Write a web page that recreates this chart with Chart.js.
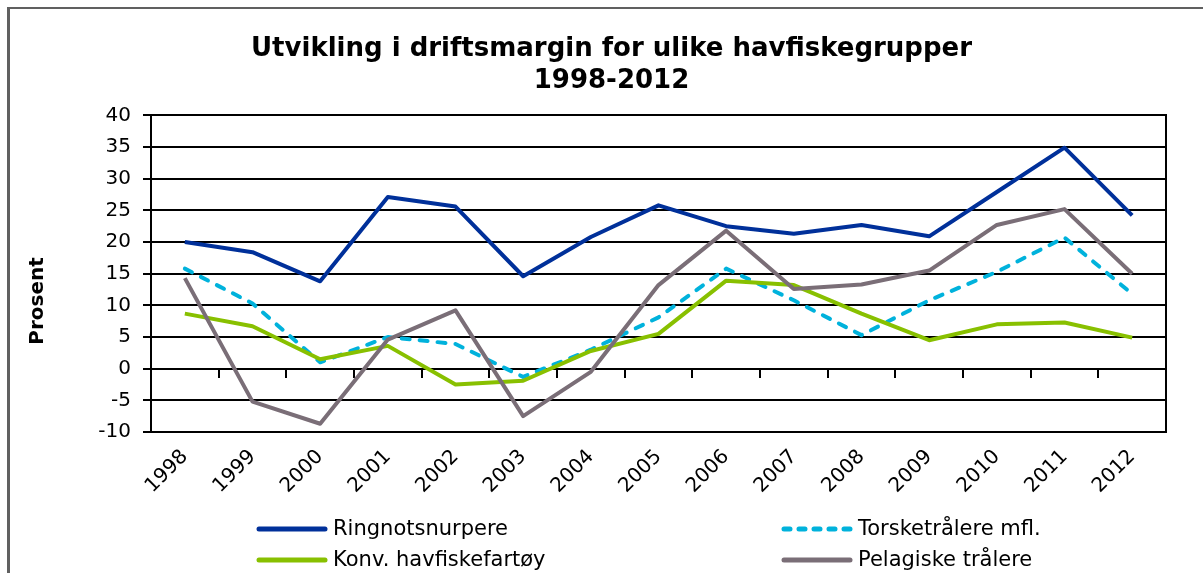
<!DOCTYPE html>
<html lang="no">
<head>
  <meta charset="UTF-8">
  <title>Driftsmargin havfiske</title>
  <script src="https://cdn.jsdelivr.net/npm/chart.js"></script>
  <style>
    body { margin: 0; background: #ffffff; }
    .boks { position: relative; width: 1203px; height: 573px; }
    .ramme { position: absolute; left: 7px; top: 7px; right: 0; bottom: 0;
             border-left: 3px solid #606060; border-top: 2px solid #606060; pointer-events: none; }
  </style>
</head>
<body>
  <div class="boks">
    <canvas id="grafMargin" width="1203" height="573"></canvas>
    <div class="ramme"></div>
  </div>

<script>
  // data lest av figuren (prosent)
  var aar = ['1998', '1999', '2000', '2001', '2002', '2003', '2004', '2005', '2006', '2007', '2008', '2009', '2010', '2011', '2012'];
  var ringnot = [20, 18.4, 13.8, 27.1, 25.6, 14.6, 20.8, 25.8, 22.5, 21.3, 22.7, 20.9, 27.9, 34.9, 24.2];
  var torsk = [15.8, 10.3, 1.0, 5.0, 3.9, -1.3, 3.0, 8.1, 15.8, 10.8, 5.3, 10.8, 15.3, 20.7, 11.8];
  var konv = [8.7, 6.7, 1.5, 3.6, -2.5, -1.9, 2.8, 5.5, 13.9, 13.2, 8.7, 4.5, 7.0, 7.3, 4.9];
  var pelagisk = [14.3, -5.2, -8.7, 4.6, 9.2, -7.5, -0.5, 13.2, 21.8, 12.6, 13.3, 15.5, 22.7, 25.2, 15.0];
  var navn = ['Ringnotsnurpere', 'Torsketrålere mfl.', 'Konv. havfiskefartøy', 'Pelagiske trålere'];
  var yMin = -10, yMax = 40, ySteg = 5;

  var font = 'DejaVu Sans';

  // tegner "Prosent" og forklaringen selv (to kolonner som i Excel)
  var egenTekst = {
    id: 'egenTekst',
    afterDraw: function (chart) {
      var ctx = chart.ctx;
      ctx.save();
      ctx.fillStyle = '#000000';
      ctx.font = 'bold 20px ' + font;
      ctx.textAlign = 'center';
      ctx.textBaseline = 'middle';
      ctx.translate(38, 301);
      ctx.rotate(-Math.PI / 2);
      ctx.fillText('Prosent', 0, 0);
      ctx.restore();

      var kolonner = [257, 782];
      var rader = [529, 560];
      chart.data.datasets.forEach(function (ds, i) {
        var x = kolonner[i % 2];
        var y = rader[Math.floor(i / 2)];
        ctx.save();
        ctx.strokeStyle = ds.borderColor;
        ctx.lineWidth = 5;
        ctx.lineCap = 'round';
        ctx.setLineDash(ds.borderDash ? [6, 9] : []);
        ctx.beginPath();
        ctx.moveTo(x + 2, y);
        ctx.lineTo(x + 68, y);
        ctx.stroke();
        ctx.setLineDash([]);
        ctx.fillStyle = '#000000';
        ctx.font = '21px ' + font;
        ctx.textAlign = 'left';
        ctx.textBaseline = 'middle';
        ctx.fillText(ds.label, x + 76, y + 1);
        ctx.restore();
      });
    }
  };

  var ctx = document.getElementById('grafMargin').getContext('2d');

  new Chart(ctx, {
    type: 'line',
    data: {
      labels: aar,
      datasets: [
        { label: navn[0], data: ringnot, borderColor: '#00309A', order: 3 },
        { label: navn[1], data: torsk, borderColor: '#00B2DC', borderDash: [8, 10], borderCapStyle: 'round', order: 2 },
        { label: navn[2], data: konv, borderColor: '#88C000', order: 1 },
        { label: navn[3], data: pelagisk, borderColor: '#7A6E77', order: 0 }
      ]
    },
    options: {
      responsive: false,
      animation: false,
      elements: {
        line: { borderWidth: 4, tension: 0, borderJoinStyle: 'round', fill: false },
        point: { radius: 0, hoverRadius: 0 }
      },
      layout: { padding: { left: 20, right: 0, top: 0, bottom: 0 } },
      scales: {
        x: {
          type: 'category',
          offset: true,
          grid: { display: false, drawTicks: false },
          border: { display: false },
          ticks: {
            color: '#000000',
            font: { family: font, size: 20 },
            minRotation: 45,
            maxRotation: 45,
            padding: 13
          },
          afterFit: function (scale) { scale.height = 141; }
        },
        xNull: {
          type: 'category',
          labels: aar,
          position: { y: 0 },
          offset: true,
          grid: { offset: true, drawOnChartArea: false, color: '#000000', lineWidth: 2, tickLength: 8 },
          border: { color: '#000000', width: 2 },
          ticks: { display: false }
        },
        y: {
          min: yMin,
          max: yMax,
          ticks: {
            stepSize: ySteg,
            color: '#000000',
            font: { family: font, size: 20 },
            padding: 12
          },
          grid: { color: '#000000', lineWidth: 2, tickLength: 8 },
          border: { color: '#000000', width: 2 },
          afterFit: function (scale) { scale.width = 131; }
        },
        yHoyre: {
          position: 'right',
          min: yMin,
          max: yMax,
          grid: { drawOnChartArea: false, drawTicks: false },
          border: { color: '#000000', width: 2 },
          ticks: { display: false },
          afterFit: function (scale) { scale.width = 37; }
        }
      },
      plugins: {
        legend: { display: false },
        tooltip: { enabled: false },
        title: {
          display: true,
          text: ['Utvikling i driftsmargin for ulike havfiskegrupper', '1998-2012'],
          color: '#000000',
          font: { family: font, size: 26, weight: 'bold', lineHeight: 1.2 },
          padding: { top: 34, bottom: 19 }
        }
      }
    },
    plugins: [egenTekst]
  });
</script>
</body>
</html>
